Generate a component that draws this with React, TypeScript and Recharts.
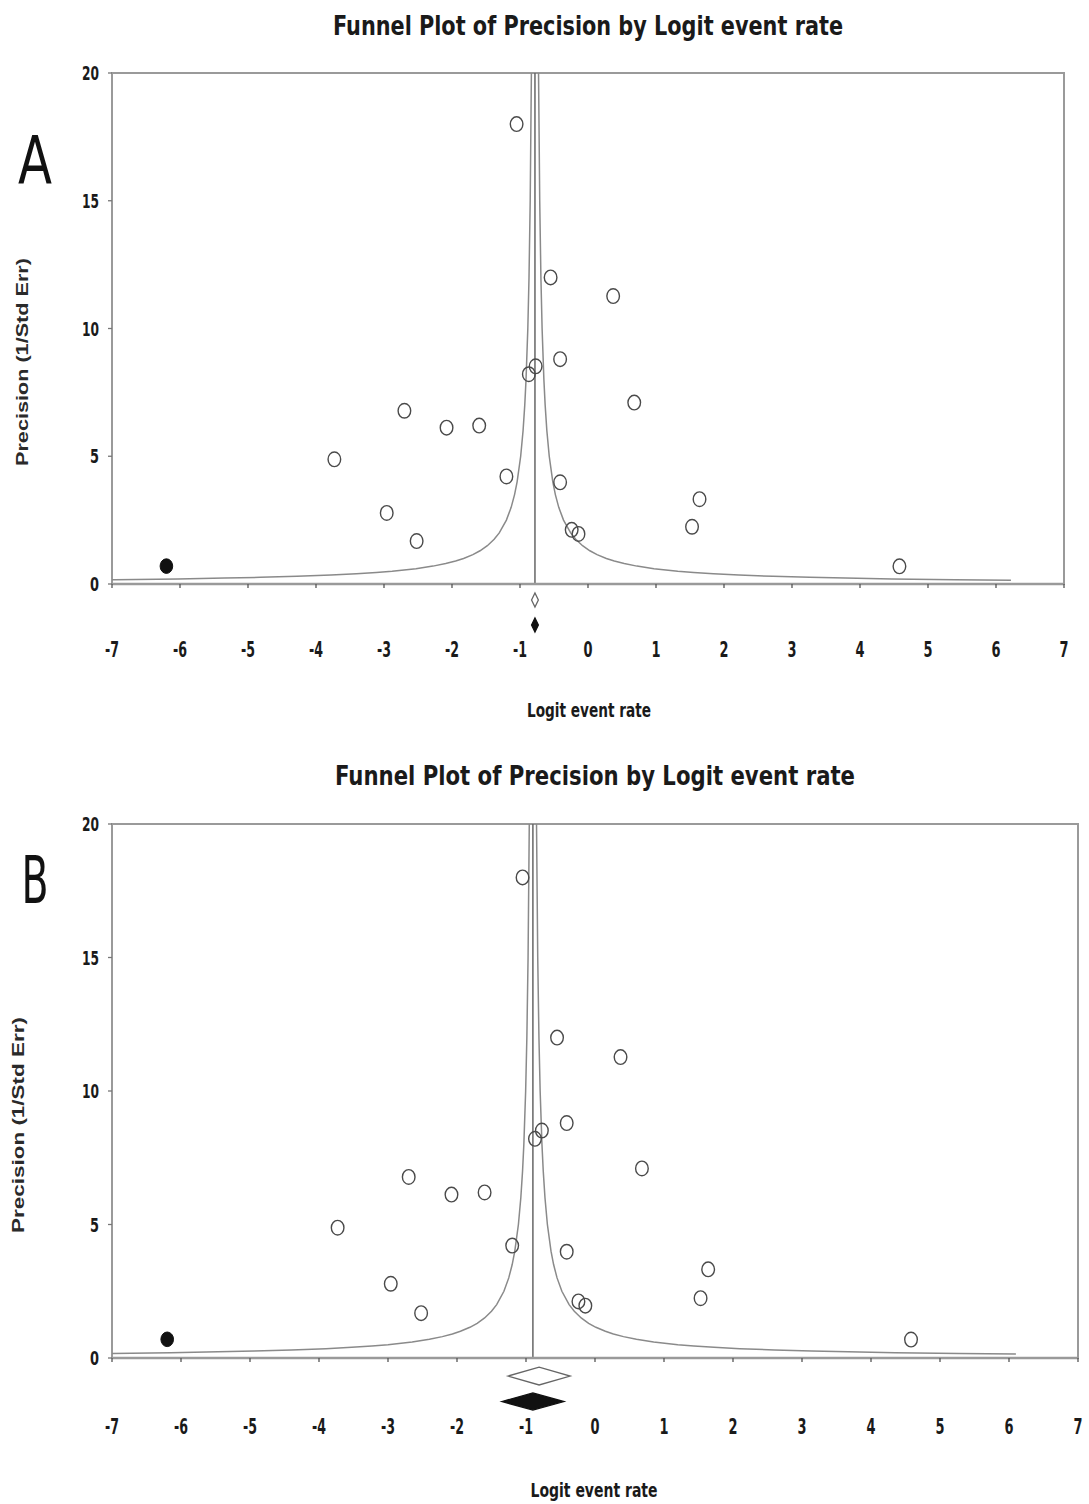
import React from 'react';
import { ScatterChart, Scatter, XAxis, YAxis, ReferenceLine, ReferenceArea } from 'recharts';

// ---------- data ----------
const xTicks = [-7, -6, -5, -4, -3, -2, -1, 0, 1, 2, 3, 4, 5, 6, 7];
const yTicks = [0, 5, 10, 15, 20];

// observed studies: logit event rate, precision (1/SE)
const studyLogit = [-1.05, -0.55, 0.37, -0.41, -0.77, -0.87, 0.68, -2.7, -2.08, -1.6, -3.73, -1.2, -0.41, 1.64, -2.96, 1.53, -0.24, -0.14, -2.52, 4.58];
const studyPrecision = [18.0, 12.0, 11.27, 8.8, 8.52, 8.21, 7.1, 6.78, 6.12, 6.2, 4.88, 4.21, 3.98, 3.32, 2.78, 2.24, 2.12, 1.96, 1.68, 0.69];

// imputed (trim and fill) study
const imputedLogit = [-6.2];
const imputedPrecision = [0.7];

// combined estimates
const meanA = -0.78;
const meanB = -0.9;
const observedCiA = [-0.83, -0.73];
const adjustedCiA = [-0.83, -0.73];
const observedCiB = [-1.26, -0.36];
const adjustedCiB = [-1.35, -0.45];

// funnel: mean +/- k / precision
const funnelK = 1.05;
const precisionLevels = [0.15, 0.17, 0.2, 0.23, 0.26, 0.3, 0.35, 0.4, 0.45, 0.5, 0.6, 0.7, 0.8, 0.9, 1, 1.15, 1.3, 1.5, 1.75, 2, 2.5, 3, 3.5, 4, 5, 6, 7, 8, 10, 12, 15, 20];

const titleText = 'Funnel Plot of Precision by Logit event rate';
const xLabelText = 'Logit event rate';
const yLabelText = 'Precision (1/Std Err)';

// ---------- styling ----------
const NARROW = '"Liberation Sans Narrow", "Arial Narrow", "DejaVu Sans Condensed", sans-serif';
const SANS = '"Liberation Sans", Arial, sans-serif';
const AXIS_GRAY = '#9a9a9a';
const CURVE_GRAY = '#8a8a8a';

const studies = studyLogit.map((x, i) => ({ x, y: studyPrecision[i] }));
const imputed = imputedLogit.map((x, i) => ({ x, y: imputedPrecision[i] }));

const leftFunnel = (mean: number) => precisionLevels.map((p) => ({ x: mean - funnelK / p, y: p }));
const rightFunnel = (mean: number) => precisionLevels.map((p) => ({ x: mean + funnelK / p, y: p }));

const OpenMarker = (props: any) => {
  const { cx, cy } = props;
  if (cx == null || cy == null) return <g />;
  return <ellipse cx={cx} cy={cy} rx={6.3} ry={7.3} fill="none" stroke="#4a4a4a" strokeWidth={1.4} />;
};
const FilledMarker = (props: any) => {
  const { cx, cy } = props;
  if (cx == null || cy == null) return <g />;
  return <ellipse cx={cx} cy={cy} rx={6.3} ry={7.3} fill="#111" stroke="#111" strokeWidth={1} />;
};
const NoMarker = () => <g />;

const diamondShape = (fill: string, stroke: string) => (props: any) => {
  const { x, y, width, height } = props;
  if (x == null) return <g />;
  const cx = x + width / 2;
  const cy = y + height / 2;
  const pts = `${x},${cy} ${cx},${y} ${x + width},${cy} ${cx},${y + height}`;
  return <polygon points={pts} fill={fill} stroke={stroke} strokeWidth={1.3} />;
};

type PanelProps = {
  width: number;
  height: number;
  margin: { top: number; right: number; bottom: number; left: number };
  mean: number;
  observedCi: number[];
  adjustedCi: number[];
  tickOffset: number;
  observedBand: number[];
  adjustedBand: number[];
};

const Panel = ({ width, height, margin, mean, observedCi, adjustedCi, tickOffset, observedBand, adjustedBand }: PanelProps) => {
  const XTick = (props: any) => {
    const { x, y, payload } = props;
    const label = String(payload.value);
    return (
      <text x={x} y={y + tickOffset} textAnchor="middle" dominantBaseline="central" fontFamily={NARROW} fontWeight="bold" fontSize={21} fill="#1a1a1a" textLength={label.length > 1 ? 14 : 9} lengthAdjust="spacingAndGlyphs">
        {label}
      </text>
    );
  };
  const YTick = (props: any) => {
    const { x, y, payload } = props;
    const label = String(payload.value);
    return (
      <text x={x} y={y} textAnchor="end" dominantBaseline="central" fontFamily={NARROW} fontWeight="bold" fontSize={20} fill="#1a1a1a" textLength={label.length > 1 ? 17 : 9} lengthAdjust="spacingAndGlyphs">
        {label}
      </text>
    );
  };
  return (
    <ScatterChart width={width} height={height} margin={margin}>
      <XAxis
        type="number"
        dataKey="x"
        domain={[-7, 7]}
        ticks={xTicks}
        allowDataOverflow
        height={80}
        stroke={AXIS_GRAY}
        axisLine={{ stroke: AXIS_GRAY, strokeWidth: 2.5 }}
        tickLine={{ stroke: '#555', strokeWidth: 1.3 }}
        tickSize={4}
        tickMargin={2}
        tick={XTick}
        interval={0}
      />
      <YAxis
        type="number"
        dataKey="y"
        domain={[0, 20]}
        ticks={yTicks}
        width={50}
        axisLine={{ stroke: AXIS_GRAY, strokeWidth: 2 }}
        tickLine={{ stroke: '#777', strokeWidth: 1.3 }}
        tickSize={4}
        tickMargin={9}
        tick={YTick}
        interval={0}
      />
      <ReferenceArea x1={-7} x2={7} y1={0} y2={20} fill="none" fillOpacity={0} stroke={AXIS_GRAY} strokeWidth={2} ifOverflow="visible" />
      <ReferenceLine x={mean} stroke="#666" strokeWidth={1.5} ifOverflow="visible" />
      <Scatter data={leftFunnel(mean)} line={{ stroke: CURVE_GRAY, strokeWidth: 1.5 }} shape={NoMarker} isAnimationActive={false} />
      <Scatter data={rightFunnel(mean)} line={{ stroke: CURVE_GRAY, strokeWidth: 1.5 }} shape={NoMarker} isAnimationActive={false} />
      <Scatter data={studies} shape={OpenMarker} isAnimationActive={false} />
      <Scatter data={imputed} shape={FilledMarker} isAnimationActive={false} />
      <ReferenceArea x1={observedCi[0]} x2={observedCi[1]} y1={observedBand[0]} y2={observedBand[1]} ifOverflow="visible" shape={diamondShape('#fff', '#666')} />
      <ReferenceArea x1={adjustedCi[0]} x2={adjustedCi[1]} y1={adjustedBand[0]} y2={adjustedBand[1]} ifOverflow="visible" shape={diamondShape('#111', '#111')} />
    </ScatterChart>
  );
};

const Overlay = () => (
  <svg width={1089} height={1504} style={{ position: 'absolute', left: 0, top: 0, pointerEvents: 'none' }}>
    {/* titles */}
    <text x={588} y={25} textAnchor="middle" dominantBaseline="central" fontFamily={NARROW} fontWeight="bold" fontSize={27} fill="#1a1a1a" textLength={510} lengthAdjust="spacingAndGlyphs">{titleText}</text>
    <text x={595} y={775} textAnchor="middle" dominantBaseline="central" fontFamily={NARROW} fontWeight="bold" fontSize={27} fill="#1a1a1a" textLength={520} lengthAdjust="spacingAndGlyphs">{titleText}</text>
    {/* x labels */}
    <text x={589} y={710} textAnchor="middle" dominantBaseline="central" fontFamily={NARROW} fontWeight="bold" fontSize={19} fill="#1a1a1a" textLength={124} lengthAdjust="spacingAndGlyphs">{xLabelText}</text>
    <text x={594} y={1490} textAnchor="middle" dominantBaseline="central" fontFamily={NARROW} fontWeight="bold" fontSize={19} fill="#1a1a1a" textLength={127} lengthAdjust="spacingAndGlyphs">{xLabelText}</text>
    {/* y labels */}
    <text x={22} y={362} transform="rotate(-90 22 362)" textAnchor="middle" dominantBaseline="central" fontFamily={SANS} fontWeight="bold" fontSize={17} fill="#2a2a2a" textLength={208} lengthAdjust="spacingAndGlyphs">{yLabelText}</text>
    <text x={18} y={1125} transform="rotate(-90 18 1125)" textAnchor="middle" dominantBaseline="central" fontFamily={SANS} fontWeight="bold" fontSize={17} fill="#2a2a2a" textLength={216} lengthAdjust="spacingAndGlyphs">{yLabelText}</text>
    {/* panel letters */}
    <text x={35} y={183} textAnchor="middle" fontFamily={NARROW} fontSize={66} fill="#111" textLength={34} lengthAdjust="spacingAndGlyphs">A</text>
    <text x={35} y={903} textAnchor="middle" fontFamily={NARROW} fontSize={66} fill="#111" textLength={27} lengthAdjust="spacingAndGlyphs">B</text>
  </svg>
);

export default function App() {
  return (
    <div style={{ position: 'absolute', left: 0, top: 0, width: 1089, height: 1504, background: '#fff', overflow: 'hidden' }}>
      <div style={{ position: 'absolute', left: 0, top: 0 }}>
        <Panel
          width={1089}
          height={740}
          margin={{ top: 73, right: 25, bottom: 76, left: 62 }}
          mean={meanA}
          observedCi={observedCiA}
          adjustedCi={adjustedCiA}
          tickOffset={60}
          observedBand={[-0.35, -0.9]}
          adjustedBand={[-1.33, -1.88]}
        />
      </div>
      <div style={{ position: 'absolute', left: 0, top: 750 }}>
        <Panel
          width={1089}
          height={754}
          margin={{ top: 74, right: 11, bottom: 66, left: 62 }}
          mean={meanB}
          observedCi={observedCiB}
          adjustedCi={adjustedCiB}
          tickOffset={63}
          observedBand={[-0.34, -1.01]}
          adjustedBand={[-1.31, -1.95]}
        />
      </div>
      <Overlay />
    </div>
  );
}
